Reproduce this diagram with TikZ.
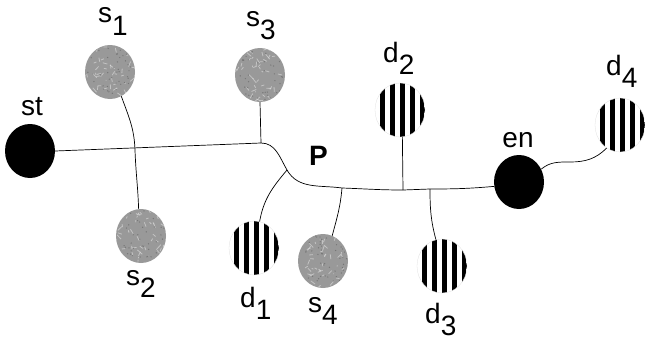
\documentclass[tikz,border=0pt]{standalone}
\usepackage{fontspec}
\setmainfont{Liberation Sans}
\usetikzlibrary{shapes.geometric}
\newcommand{\idx}[1]{\raisebox{-12.5pt}{#1}}
\tikzset{
  blob/.style={ellipse, minimum width=50pt, minimum height=54pt, inner sep=0pt},
  term/.style={blob, fill=black},
  stone/.style={blob, fill=black!40, path picture={
    \foreach \k in {1,...,50}
      \draw[black!12, line width=.8pt, opacity=.6] (path picture bounding box.center) ++(rand*24pt,rand*26pt) -- ++(rand*5pt,rand*5pt);
    \foreach \k in {1,...,50}
      \fill[black!70, opacity=.45] (path picture bounding box.center) ++(rand*24pt,rand*26pt) circle (.7pt);
  }},
  stripes/.style={blob, draw=black!12, line width=.3pt, path picture={
    \foreach \k in {-2,...,2}
      \fill[black] ([xshift=\k*10pt]path picture bounding box.south) rectangle ++(5pt,60pt);
  }},
  lbl/.style={font=\fontsize{28}{32}\selectfont, inner sep=0pt},
  wire/.style={line width=.7pt}
}
\begin{document}
\begin{tikzpicture}[x=1pt,y=1pt]
\pgfmathsetseed{17}
\useasboundingbox (0,0) rectangle (645,341);
\node[term] (st) at (30,190) {};
\node[term] (en) at (519,159) {};
\node[stone] (s1) at (110,269) {};
\node[stone] (s2) at (141,105) {};
\node[stone] (s3) at (260,266) {};
\node[stone] (s4) at (323,80) {};
\node[stripes] (d1) at (254,93) {};
\node[stripes] (d2) at (400,231) {};
\node[stripes] (d3) at (442,75) {};
\node[stripes] (d4) at (620,216) {};
\node[lbl, anchor=base] (lst) at (32,226) {st};
\node[lbl, anchor=base] (len) at (518,194) {en};
\node[lbl, anchor=base west] (ls1) at (98,318) {s\idx{1}};
\node[lbl, anchor=base west] (ls2) at (126,56) {s\idx{2}};
\node[lbl, anchor=base west] (ls3) at (246,314) {s\idx{3}};
\node[lbl, anchor=base west] (ls4) at (308,29) {s\idx{4}};
\node[lbl, anchor=base west] (ld1) at (240,34) {d\idx{1}};
\node[lbl, anchor=base west] (ld2) at (383,279) {d\idx{2}};
\node[lbl, anchor=base west] (ld3) at (425,18) {d\idx{3}};
\node[lbl, anchor=base west] (ld4) at (606,266) {d\idx{4}};
\node[lbl, anchor=base west, font=\fontsize{28}{32}\selectfont\bfseries] (lP) at (309,176) {P};
\coordinate (j3) at (261,198);
\coordinate (jp) at (287,171);
\coordinate (j4) at (342,153);
\coordinate (j2) at (403,151);
\coordinate (j5) at (430,152);
\coordinate (x12) at (135,191);
\coordinate (k4) at (570,179);
\draw[wire] (st.east) -- (j3) to[out=0,in=120] (jp) to[out=-60,in=172] (j4) to[out=-2,in=180] (j2) -- (j5) to[out=0,in=185] (en.190);
\draw[wire] (s3.south) -- (j3);
\draw[wire] (s1.-65) to[out=-70,in=92] (x12) to[out=-88,in=92] (s2.95);
\draw[wire] (jp) to[out=-130,in=80] (d1.78);
\draw[wire] (j4) to[out=-95,in=75] (s4.70);
\draw[wire] (d2.-85) -- (j2);
\draw[wire] (j5) to[out=-90,in=105] (d3.103);
\draw[wire] (en.30) to[out=40,in=180] (k4) to[out=0,in=-135] (d4.-120);
\end{tikzpicture}
\end{document}
